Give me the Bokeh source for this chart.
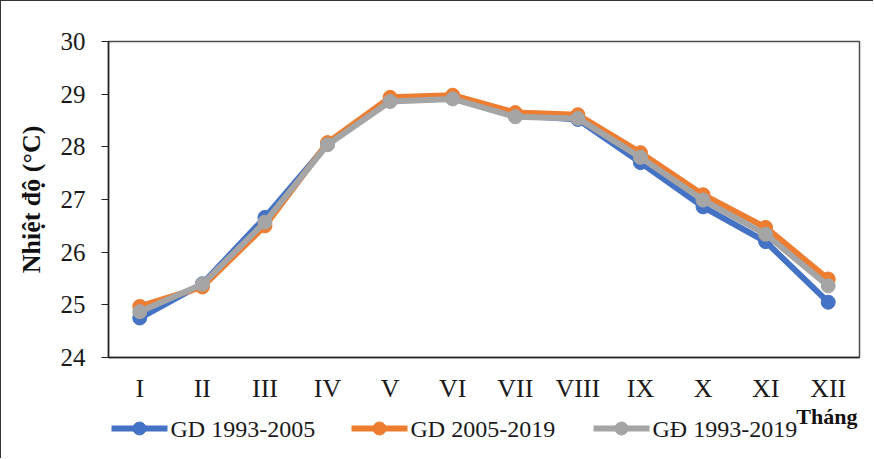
from bokeh.plotting import figure
from bokeh.models import FixedTicker, Range1d, Label
from bokeh.layouts import column
from bokeh.core.properties import value
from bokeh.embed import file_html
from bokeh.resources import INLINE

months = ["I", "II", "III", "IV", "V", "VI", "VII", "VIII", "IX", "X", "XI", "XII"]
gd_1993_2005 = [24.75, 25.40, 26.66, 28.05, 28.88, 28.92, 28.60, 28.52, 27.70, 26.86, 26.20, 25.05]
gd_2005_2019 = [24.97, 25.34, 26.50, 28.08, 28.94, 28.98, 28.65, 28.61, 27.89, 27.09, 26.47, 25.49]
gd_1993_2019 = [24.87, 25.39, 26.57, 28.04, 28.86, 28.91, 28.57, 28.54, 27.80, 26.99, 26.34, 25.36]
series_names = ["GD 1993-2005", "GD 2005-2019", "GĐ 1993-2019"]
colors = ["#4472C4", "#ED7D31", "#A5A5A5"]
y_ticks = [24, 25, 26, 27, 28, 29, 30]
y_min, y_max = 24, 30
x_title = "Tháng"
y_title = "Nhiệt độ (°C)"

FONT = "Liberation Serif"

# ---- main chart ----
p = figure(frame_width=750, frame_height=315, x_range=months, y_range=Range1d(y_min, y_max),
           output_backend="svg", toolbar_location=None,
           min_border_left=107, min_border_right=15, min_border_top=40, min_border_bottom=44)
p.styles = {"border-left": "1px solid #333333", "border-top": "1px solid #333333"}
p.xgrid.visible = False
p.ygrid.visible = False
p.outline_line_color = "#4d4d4d"
p.outline_line_width = 1.5

for vals, col in zip([gd_1993_2005, gd_2005_2019, gd_1993_2019], colors):
    p.line(months, vals, line_color=col, line_width=6)
    p.scatter(months, vals, size=14, fill_color=col, line_color=col)

yax = p.yaxis[0]
yax.ticker = FixedTicker(ticks=y_ticks)
yax.minor_tick_line_color = None
yax.major_tick_out = 7
yax.major_tick_in = 0
yax.major_tick_line_color = "#222222"
yax.axis_line_color = "#222222"
yax.axis_line_width = 1.5
yax.major_label_text_font = FONT
yax.major_label_text_font_size = "25px"
yax.major_label_text_color = "#1a1a1a"
yax.major_label_standoff = 16
yax.axis_label = y_title
yax.axis_label_text_font = FONT
yax.axis_label_text_font_style = "bold"
yax.axis_label_text_font_size = "26px"
yax.axis_label_text_color = "#111111"
yax.axis_label_standoff = 12

xax = p.xaxis[0]
xax.major_tick_line_color = None
xax.minor_tick_line_color = None
xax.axis_line_color = "#222222"
xax.axis_line_width = 1.5
xax.major_label_text_font = FONT
xax.major_label_text_font_size = "26px"
xax.major_label_text_color = "#1a1a1a"
xax.major_label_standoff = 10

# ---- legend strip (frame aligned with the chart frame; x in page pixels) ----
LEG_H = 54
leg = figure(width=872, height=LEG_H, x_range=Range1d(107, 857), y_range=Range1d(LEG_H, 0),
             x_axis_type=None, y_axis_type=None, output_backend="svg", toolbar_location=None,
             min_border=0)
leg.styles = {"border-left": "1px solid #333333"}
leg.xgrid.visible = False
leg.ygrid.visible = False
leg.outline_line_color = None

legend_x = [110, 350, 592]
glyph_w = 56
legend_y = 24
for x0, name, col in zip(legend_x, series_names, colors):
    leg.line([x0, x0 + glyph_w], [legend_y, legend_y], line_color=col, line_width=6)
    leg.scatter([x0 + glyph_w / 2], [legend_y], size=13, fill_color=col, line_color=col)
leg.text(x=[x + glyph_w + 3 for x in legend_x], y=[legend_y] * 3, text=series_names,
         text_font=value(FONT), text_font_size="24px", text_baseline="middle",
         text_align="left", text_color="#1a1a1a")

leg.add_layout(Label(x=856, y=-1, text=x_title, text_font=FONT, text_font_style="bold",
                     text_font_size="22px", text_align="right", text_baseline="top",
                     text_color="#111111"))

layout = column(p, leg, spacing=0)
open("out.html", "w").write(file_html(layout, INLINE))
